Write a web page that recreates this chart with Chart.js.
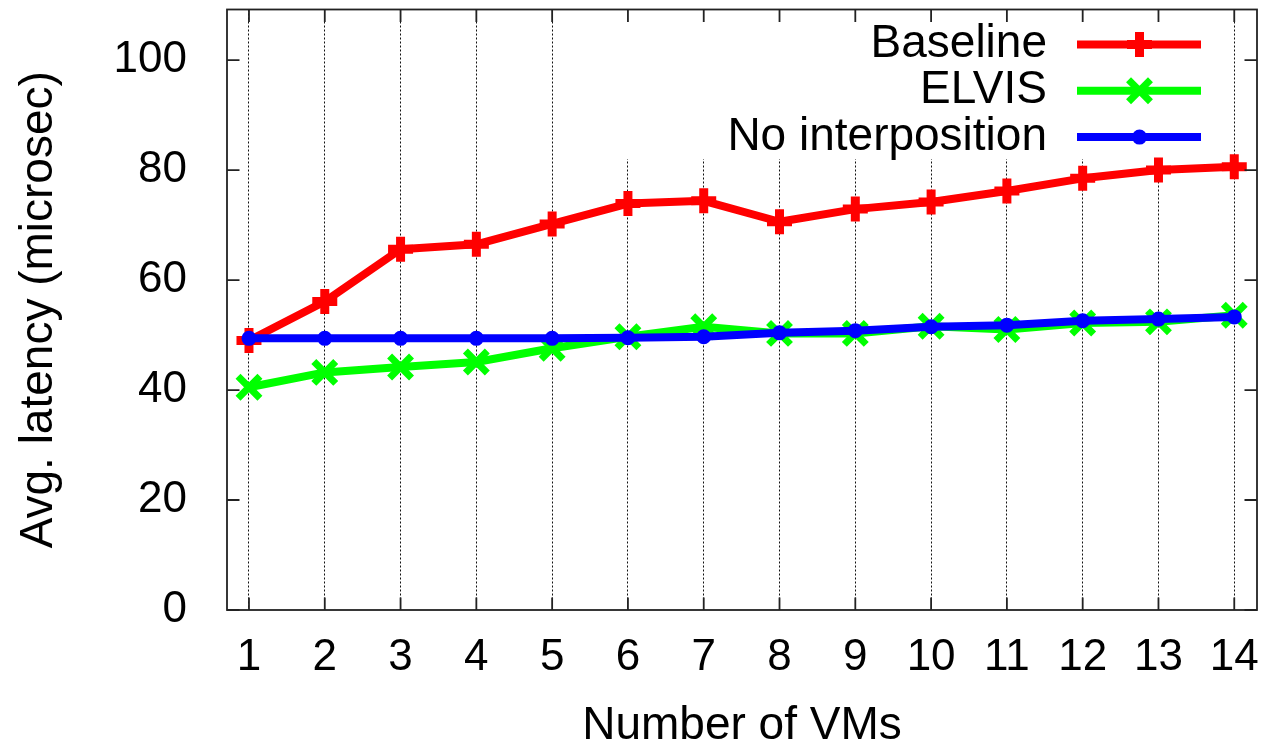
<!DOCTYPE html>
<html><head><meta charset="utf-8">
<script src="https://cdn.jsdelivr.net/npm/chart.js@4/dist/chart.umd.min.js"></script>
<style>html,body{margin:0;padding:0;background:#fff;overflow:hidden}#wrap{width:1271px;height:745px;}</style>
</head><body><div id="wrap"><canvas id="c" width="1271" height="745"></canvas></div>
<script>
const vms = [1,2,3,4,5,6,7,8,9,10,11,12,13,14];
const baseline = [49.0,56.1,65.6,66.5,70.2,73.9,74.4,70.6,72.9,74.2,76.2,78.5,80.0,80.6];
const elvis = [40.5,43.2,44.2,45.1,47.6,49.7,51.5,50.3,50.3,51.6,51.0,52.2,52.4,53.6];
const noInterp = [49.4,49.4,49.4,49.4,49.4,49.5,49.7,50.4,50.8,51.5,51.8,52.6,52.9,53.3];
const yTicks = [0,20,40,60,80,100];
const seriesNames = ['Baseline','ELVIS','No interposition'];
const seriesColors = ['#ff0000','#00ff00','#0000ff'];

const FONT = "'Liberation Sans', Arial, sans-serif";
const FS = 44;      // tick labels
const FS_T = 46;    // titles and legend
const TARGET = { left: 227, top: 9.5, right: 1257, bottom: 610 };

function pts(arr){ return vms.map((v,i)=>({x:v,y:arr[i]})); }

function marker(ctx, style, x, y, color){
  ctx.save();
  ctx.strokeStyle = color; ctx.fillStyle = color;
  ctx.beginPath();
  if (style === 'cross') {
    const r = 12.5; ctx.lineWidth = 9;
    ctx.moveTo(x-r,y); ctx.lineTo(x+r,y); ctx.moveTo(x,y-r); ctx.lineTo(x,y+r);
    ctx.stroke();
  } else if (style === 'crossRot') {
    const r = 15.5*Math.SQRT1_2; ctx.lineWidth = 7;
    ctx.moveTo(x-r,y-r); ctx.lineTo(x+r,y+r); ctx.moveTo(x+r,y-r); ctx.lineTo(x-r,y+r);
    ctx.stroke();
  } else {
    ctx.lineWidth = 3;
    ctx.arc(x,y,6,0,Math.PI*2); ctx.fill(); ctx.stroke();
  }
  ctx.restore();
}

function noPad(s){
  s.paddingTop = 0; s.paddingBottom = 0; s.paddingLeft = 0; s.paddingRight = 0;
}

const decor = {
  id: 'decor',
  beforeDatasetsDraw(chart){
    const ctx = chart.ctx, a = chart.chartArea;
    ctx.save(); ctx.fillStyle = '#fff';
    ctx.fillRect(590, a.top+1, 625, 158 - a.top);
    ctx.restore();
  },
  afterDatasetsDraw(chart){
    const ctx = chart.ctx, a = chart.chartArea;
    const styles = ['cross','crossRot','circle'];
    const rows = [44.5, 90.8, 137.1];
    ctx.save();
    ctx.font = FS_T + 'px ' + FONT;
    ctx.textAlign = 'right'; ctx.textBaseline = 'middle'; ctx.fillStyle = '#000';
    seriesNames.forEach((n,i)=>{
      ctx.fillText(n, 1047, rows[i]);
      ctx.strokeStyle = seriesColors[i]; ctx.lineWidth = 8; ctx.lineCap = 'butt';
      ctx.beginPath(); ctx.moveTo(1077, rows[i]); ctx.lineTo(1201, rows[i]); ctx.stroke();
      marker(ctx, styles[i], 1139.5, rows[i], seriesColors[i]);
    });
    ctx.restore();
    ctx.save();
    ctx.strokeStyle = '#222'; ctx.lineWidth = 1.8;
    ctx.strokeRect(a.left, a.top, a.right - a.left, a.bottom - a.top);
    ctx.beginPath();
    const tl = 12.5;
    chart.scales.y.ticks.forEach(t=>{
      const py = chart.scales.y.getPixelForValue(t.value);
      ctx.moveTo(a.left, py); ctx.lineTo(a.left + tl, py);
      ctx.moveTo(a.right, py); ctx.lineTo(a.right - tl, py);
    });
    chart.scales.x.ticks.forEach(t=>{
      const px = chart.scales.x.getPixelForValue(t.value);
      ctx.moveTo(px, a.bottom); ctx.lineTo(px, a.bottom - tl);
      ctx.moveTo(px, a.top); ctx.lineTo(px, a.top + tl);
    });
    ctx.stroke();
    ctx.restore();
  }
};

const config = {
  type: 'line',
  data: {
    datasets: [
      { label: seriesNames[0], data: pts(baseline), borderColor: seriesColors[0], backgroundColor: seriesColors[0],
        borderWidth: 8, pointStyle: 'cross', pointRadius: 12.5, pointBorderWidth: 9, pointBorderColor: seriesColors[0],
        tension: 0, order: 2, borderJoinStyle: 'round' },
      { label: seriesNames[1], data: pts(elvis), borderColor: seriesColors[1], backgroundColor: seriesColors[1],
        borderWidth: 8, pointStyle: 'crossRot', pointRadius: 15.5, pointBorderWidth: 7, pointBorderColor: seriesColors[1],
        tension: 0, order: 1, borderJoinStyle: 'round' },
      { label: seriesNames[2], data: pts(noInterp), borderColor: seriesColors[2], backgroundColor: seriesColors[2],
        borderWidth: 8, pointStyle: 'circle', pointRadius: 6, pointBorderWidth: 3, pointBorderColor: seriesColors[2],
        tension: 0, order: 0, borderJoinStyle: 'round' }
    ]
  },
  options: {
    responsive: false, animation: false, devicePixelRatio: 1,
    layout: { autoPadding: false, padding: { top: 9.5, right: 14, left: 0, bottom: 0 } },
    plugins: { legend: { display: false }, tooltip: { enabled: false } },
    scales: {
      x: {
        type: 'linear', min: 0.71, max: 14.3,
        afterBuildTicks: s => { s.ticks = vms.map(v=>({value:v})); },
        afterFit: s => { s.height = 135; noPad(s); },
        grid: { display: true, drawTicks: false, color: '#111', lineWidth: 1 },
        border: { display: false, dash: [2,2] },
        ticks: { padding: 21, color: '#000', font: { family: FONT, size: FS }, maxRotation: 0, autoSkip: false },
        title: { display: true, text: 'Number of VMs', color: '#000', font: { family: FONT, size: FS_T, lineHeight: 1 }, padding: { top: 0, bottom: -4 } }
      },
      y: {
        type: 'linear', min: 0, max: 109.2,
        afterBuildTicks: s => { s.ticks = yTicks.map(v=>({value:v})); },
        afterFit: s => { s.width = 227; noPad(s); },
        grid: { display: false },
        border: { display: false },
        ticks: { padding: 32, color: '#000', font: { family: FONT, size: FS } },
        title: { display: true, text: 'Avg. latency (microsec)', color: '#000', font: { family: FONT, size: FS_T, lineHeight: 1 }, padding: { top: 16, bottom: 0 } }
      }
    }
  },
  plugins: [decor]
};
const chart = new Chart(document.getElementById('c'), config);

// nudge the layout padding so the plot area lands where the reference has it
for (let k = 0; k < 2; k++) {
  const a = chart.chartArea, p = chart.config.options.layout.padding;
  const dt = TARGET.top - a.top, dl = TARGET.left - a.left, dr = a.right - TARGET.right, db = a.bottom - TARGET.bottom;
  if (Math.abs(dt) + Math.abs(dl) + Math.abs(dr) + Math.abs(db) < 0.5) break;
  p.top += dt; p.left += dl; p.right += dr; p.bottom += db;
  chart.update();
}
</script>
</body></html>
